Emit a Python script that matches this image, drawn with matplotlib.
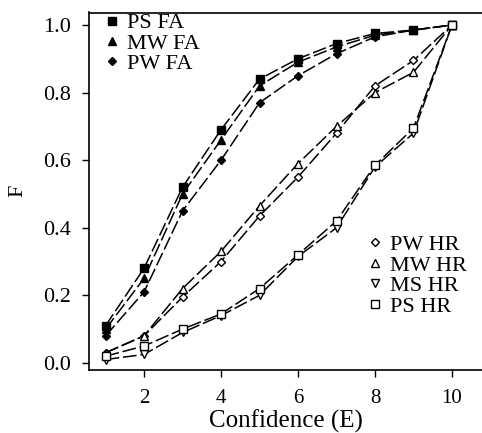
import matplotlib
matplotlib.use("Agg")
import matplotlib.pyplot as plt
from matplotlib.lines import Line2D

plt.rcParams['font.family'] = ['Liberation Serif', 'DejaVu Serif']
plt.rcParams['mathtext.fontset'] = 'stix'

confidence = [1, 2, 3, 4, 5, 6, 7, 8, 9, 10]

ps_fa = [0.11, 0.28, 0.52, 0.69, 0.84, 0.90, 0.945, 0.975, 0.985, 1.0]
mw_fa = [0.10, 0.25, 0.50, 0.66, 0.82, 0.89, 0.935, 0.97, 0.985, 1.0]
pw_fa = [0.08, 0.21, 0.45, 0.60, 0.77, 0.85, 0.915, 0.965, 0.985, 1.0]

pw_hr = [0.03, 0.08, 0.195, 0.30, 0.435, 0.55, 0.68, 0.82, 0.895, 1.0]
mw_hr = [0.03, 0.08, 0.22, 0.33, 0.465, 0.59, 0.70, 0.80, 0.86, 1.0]
ms_hr = [0.01, 0.025, 0.09, 0.14, 0.20, 0.315, 0.40, 0.58, 0.68, 1.0]
ps_hr = [0.02, 0.05, 0.10, 0.145, 0.22, 0.32, 0.42, 0.585, 0.695, 1.0]

x_ticks = [2, 4, 6, 8, 10]
y_ticks = [0.0, 0.2, 0.4, 0.6, 0.8, 1.0]

fig = plt.figure(figsize=(4.82, 4.33), dpi=100)
ax = fig.add_axes([89/482, 63/433, 1 - 89/482, (370 - 12.5)/433])

dash = (0, (9, 2.5))
lw = 1.1
ms = 5.5

series = [
    (ps_fa, 's', 'black', 'PS FA'),
    (mw_fa, '^', 'black', 'MW FA'),
    (pw_fa, 'D', 'black', 'PW FA'),
    (pw_hr, 'D', 'white', 'PW HR'),
    (mw_hr, '^', 'white', 'MW HR'),
    (ms_hr, 'v', 'white', 'MS HR'),
    (ps_hr, 's', 'white', 'PS HR'),
]

for vals, mk, fc, lab in series:
    msz = ms - 1.2 if mk == 'D' else ms
    ax.plot(confidence, vals, color='black', linestyle=dash, linewidth=lw,
            marker=mk, markersize=msz, markerfacecolor=fc,
            markeredgecolor='black', markeredgewidth=1.0, label=lab)

ax.set_xlim(0.57, 10.78)
ax.set_ylim(-0.021, 1.037)
ax.set_xticks(x_ticks)
ax.set_yticks(y_ticks)
ax.set_yticklabels([f"{v:.1f}" for v in y_ticks])
ax.tick_params(direction='out', length=5, width=1.0, labelsize=16)
ax.tick_params(axis='x', labelsize=15, pad=9)
ax.tick_params(axis='y', pad=8)
for s in ['left', 'bottom', 'top']:
    ax.spines[s].set_linewidth(1.2)
ax.spines['right'].set_visible(False)

ax.set_xlabel('Confidence (E)', fontsize=18, labelpad=0.5)
ax.set_ylabel('F', fontsize=16, labelpad=11)

def handles(items):
    hs = []
    for vals, mk, fc, lab in items:
        msz = ms - 1.2 if mk == 'D' else ms
        hs.append(Line2D([], [], linestyle='none', marker=mk, markersize=msz,
                         markerfacecolor=fc, markeredgecolor='black',
                         markeredgewidth=1.0, label=lab))
    return hs

leg1 = ax.legend(handles=handles(series[:3]), loc='upper left',
                 bbox_to_anchor=(0.01, 1.03), frameon=False, fontsize=16,
                 handlelength=0.7, handletextpad=0.35, labelspacing=-0.02,
                 borderpad=0.0)
ax.add_artist(leg1)
ax.legend(handles=handles(series[3:]), loc='upper left',
          bbox_to_anchor=(0.68, 0.41), frameon=False, fontsize=16,
          handlelength=0.7, handletextpad=0.3, labelspacing=0.0,
          borderpad=0.0)

fig.savefig('out.png', dpi=100)
